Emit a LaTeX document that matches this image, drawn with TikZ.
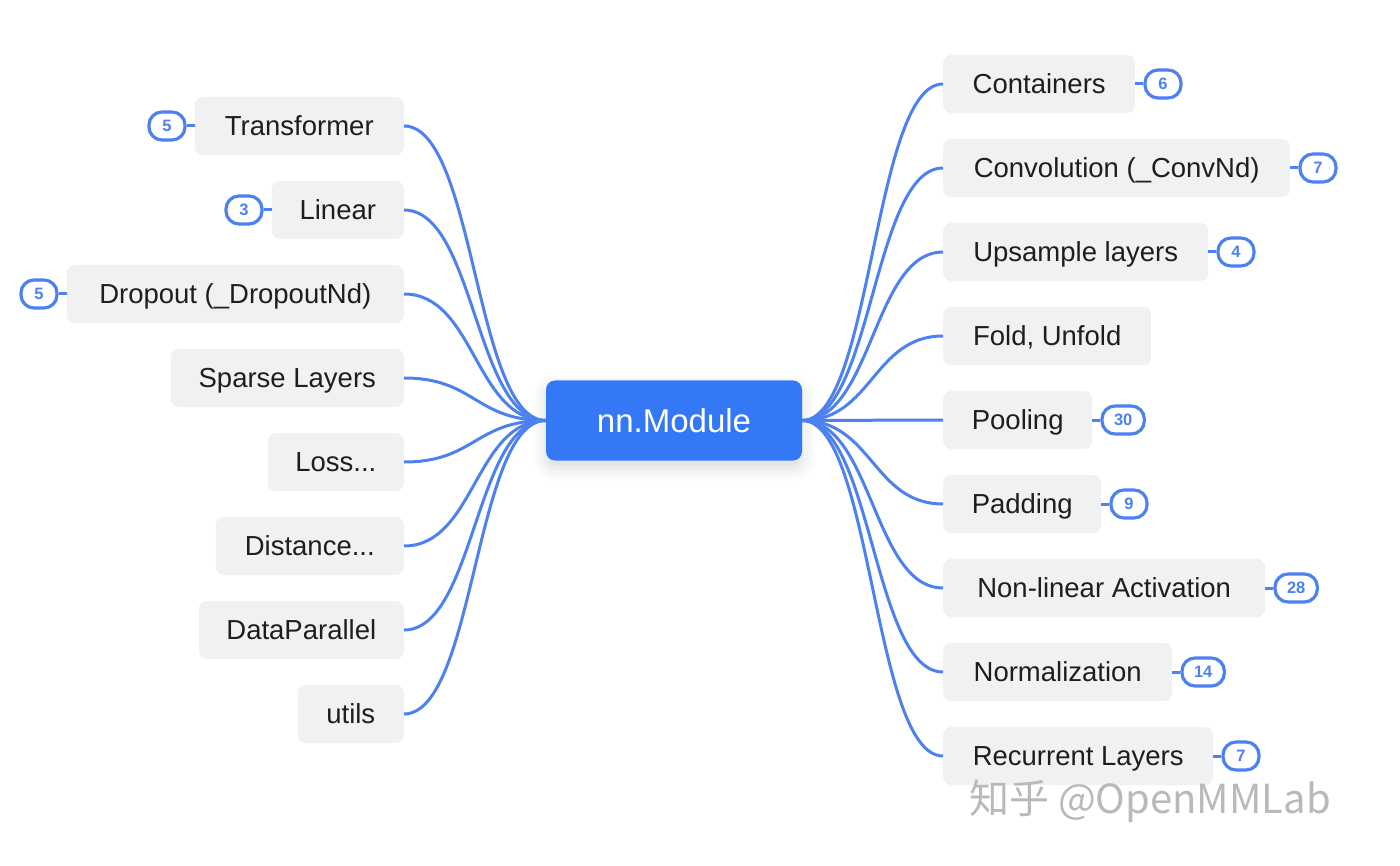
\documentclass[tikz,border=0pt]{standalone}
\usepackage{fontspec}
\setmainfont{Liberation Sans}
\newfontfamily\cjkfont{Noto Sans CJK SC}
\usetikzlibrary{shadows.blur}
\definecolor{hubblue}{RGB}{52,120,246}
\definecolor{linkblue}{RGB}{78,129,240}
\definecolor{boxbg}{RGB}{240,241,243}
\definecolor{ink}{RGB}{30,30,32}
\definecolor{wmgray}{RGB}{185,185,185}
\begin{document}
\begin{tikzpicture}[x=1pt,y=-1pt,
  leaf/.style={fill=boxbg, rounded corners=8pt, minimum height=58pt, inner sep=0pt,
    text=ink, font=\fontsize{27.5}{32}\selectfont, text height=19.7pt, text depth=0pt},
  hubnode/.style={fill=hubblue, rounded corners=9pt, minimum width=256pt, minimum height=80pt,
    inner sep=0pt, text=white, font=\fontsize{33}{38}\selectfont, text height=23.6pt, text depth=0pt,
    blur shadow={shadow xshift=0pt, shadow yshift=-7pt, shadow blur radius=14pt,
      shadow opacity=15, fill=hubblue}},
  badge/.style={draw=linkblue, line width=3.2pt, rounded corners=13pt, minimum width=36pt,
    minimum height=28pt, inner xsep=12pt, inner ysep=0pt, text=linkblue,
    font=\bfseries\fontsize{16.5}{18}\selectfont, text height=11.8pt, text depth=0pt},
  link/.style={draw=linkblue, line width=3pt},
  tick/.style={draw=linkblue, line width=3pt}]
\useasboundingbox (0,0) rectangle (1400,866);

% hub
\node[hubnode] (hub) at (674,420.5) {nn.Module};

% left leaves
\node[leaf, minimum width=209pt, anchor=east] (transformer) at (404,126) {Transformer};
\node[leaf, minimum width=132pt, anchor=east] (linear) at (404,210) {Linear};
\node[leaf, minimum width=337pt, anchor=east] (dropout) at (404,294) {Dropout (\_DropoutNd)};
\node[leaf, minimum width=233pt, anchor=east] (sparse) at (404,378) {Sparse Layers};
\node[leaf, minimum width=136pt, anchor=east] (loss) at (404,462) {Loss...};
\node[leaf, minimum width=188pt, anchor=east] (distance) at (404,546) {Distance...};
\node[leaf, minimum width=205pt, anchor=east] (dataparallel) at (404,630) {DataParallel};
\node[leaf, minimum width=106pt, anchor=east] (utils) at (404,714) {utils};

% right leaves
\node[leaf, minimum width=192pt, anchor=west] (containers) at (943,84) {Containers};
\node[leaf, minimum width=347pt, anchor=west] (conv) at (943,168) {Convolution (\_ConvNd)};
\node[leaf, minimum width=265pt, anchor=west] (upsample) at (943,252) {Upsample layers};
\node[leaf, minimum width=208pt, anchor=west] (fold) at (943,336) {Fold, Unfold};
\node[leaf, minimum width=149pt, anchor=west] (pooling) at (943,420) {Pooling};
\node[leaf, minimum width=158pt, anchor=west] (padding) at (943,504) {Padding};
\node[leaf, minimum width=322pt, anchor=west] (nonlin) at (943,588) {Non-linear Activation};
\node[leaf, minimum width=229pt, anchor=west] (norm) at (943,672) {Normalization};
\node[leaf, minimum width=270pt, anchor=west] (recurrent) at (943,756) {Recurrent Layers};

% connectors
\foreach \n in {transformer,linear,dropout,sparse,loss,distance,dataparallel,utils}
  \draw[link] (hub.west) .. controls +(-71,0) and +(71,0) .. (\n.east);
\foreach \n in {containers,conv,upsample,fold,pooling,padding,nonlin,norm,recurrent}
  \draw[link] (hub.east) .. controls +(70,0) and +(-70,0) .. (\n.west);

% left badges
\node[badge, anchor=east] (btransformer) at ([xshift=-8pt]transformer.west) {5};
\node[badge, anchor=east] (blinear) at ([xshift=-8pt]linear.west) {3};
\node[badge, anchor=east] (bdropout) at ([xshift=-8pt]dropout.west) {5};
\foreach \n in {transformer,linear,dropout}
  \draw[tick] (\n.west) -- (b\n.east);

% right badges
\node[badge, anchor=west] (bcontainers) at ([xshift=8pt]containers.east) {6};
\node[badge, anchor=west] (bconv) at ([xshift=8pt]conv.east) {7};
\node[badge, anchor=west] (bupsample) at ([xshift=8pt]upsample.east) {4};
\node[badge, anchor=west] (bpooling) at ([xshift=8pt]pooling.east) {30};
\node[badge, anchor=west] (bpadding) at ([xshift=8pt]padding.east) {9};
\node[badge, anchor=west] (bnonlin) at ([xshift=8pt]nonlin.east) {28};
\node[badge, anchor=west] (bnorm) at ([xshift=8pt]norm.east) {14};
\node[badge, anchor=west] (brecurrent) at ([xshift=8pt]recurrent.east) {7};
\foreach \n in {containers,conv,upsample,pooling,padding,nonlin,norm,recurrent}
  \draw[tick] (\n.east) -- (b\n.west);

% watermark
\node[text=wmgray, font=\cjkfont\fontsize{40}{46}\selectfont, inner sep=0pt] (wm) at (1150,801) {知乎 @OpenMMLab};
\end{tikzpicture}
\end{document}
